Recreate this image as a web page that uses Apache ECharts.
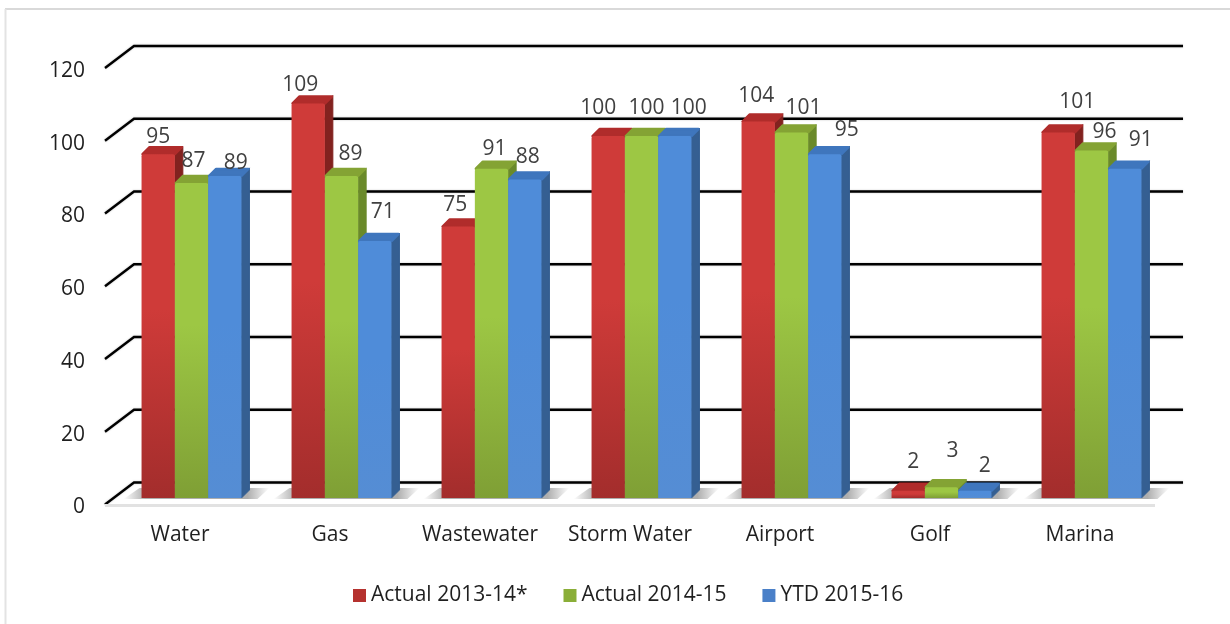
<!DOCTYPE html>
<html>
<head>
    <meta charset="utf-8">
    <title>Chart</title>
    <style>
        html, body { margin: 0; padding: 0; background: #fff; }
        #main { width: 1230px; height: 624px; }
    </style>
</head>
<body>
<div id="main"></div>
<script src="https://cdn.jsdelivr.net/npm/echarts@6/dist/echarts.min.js"></script>
<script>
var categories = ['Water', 'Gas', 'Wastewater', 'Storm Water', 'Airport', 'Golf', 'Marina'];
var actual1314 = [95, 109, 75, 100, 104, 2, 101];
var actual1415 = [87, 89, 91, 100, 101, 3, 96];
var ytd1516 = [89, 71, 88, 100, 95, 2, 91];
var yTicks = [0, 20, 40, 60, 80, 100, 120];

// hand placed labels in the original, [dx, dy] from the default spot
var nudge1314 = [[0, 1], [-8, 0], [-3, -4], [-10, -10], [-2, -8], [5, -11], [19, -12]];
var nudge1415 = [[2, -4], [9, -4], [3, -2], [5, -10], [12, -6], [11, -18], [13, -1]];
var nudge1516 = [[11, 5], [8, -11], [3, -4], [14, -10], [22, -6], [10, -7], [16, -11]];

var wallDx = 29, wallDy = -22;   // depth of the floor
var barDx = 8, barDy = -8;       // depth of one bar
var baseDy = -6.5, groupShift = 11.5, scaleY = 0.995;

function vGrad(a, b) {
    return new echarts.graphic.LinearGradient(0, 0, 0, 1, [
        {offset: 0, color: a}, {offset: 0.45, color: a}, {offset: 1, color: b}
    ]);
}

var palette = [
    {front: vGrad('#cf3b39', '#a32d2c'), top: '#b02c2b', side: '#82221f', legend: '#b5322f'},
    {front: vGrad('#9dc744', '#7f9f35'), top: '#84a334', side: '#6a8a2a', legend: '#8aae38'},
    {front: vGrad('#4f8cd9', '#558dd4'), top: '#3f76bd', side: '#355f92', legend: '#4a80c8'}
];

function renderBar(idx, values, nudges) {
    return function (params, api) {
        var cat = api.value(0);
        var val = api.value(1);
        var zero = api.coord([cat, 0]);
        var top = api.coord([cat, val]);
        var w = api.size([1, 0])[0] * 0.222;
        var x = zero[0] + groupShift + (idx - 1.5) * w;
        var y0 = zero[1] + baseDy;
        var y1 = y0 + (top[1] - zero[1]) * scaleY;
        var c = palette[idx];
        var n = nudges[params.dataIndex];
        return {
            type: 'group',
            children: [
                {type: 'polygon', shape: {points: [[x + w, y1], [x + w + barDx, y1 + barDy], [x + w + barDx, y0 + barDy], [x + w, y0]]},
                    style: {fill: c.side, stroke: c.side, lineWidth: 1, lineJoin: 'round'}},
                {type: 'polygon', shape: {points: [[x + 1, y1], [x + barDx, y1 + barDy + 1], [x + w + barDx - 1, y1 + barDy + 1], [x + w, y1]]},
                    style: {fill: c.top, stroke: c.top, lineWidth: 2.5, lineJoin: 'round'}},
                {type: 'rect', shape: {x: x, y: y1, width: w, height: y0 - y1, r: [2, 2, 0, 0]},
                    style: {fill: c.front}},
                {type: 'text', z2: 100, style: {
                    text: String(values[params.dataIndex]),
                    x: x + w / 2 + n[0], y: y1 - 18 + n[1],
                    align: 'center', verticalAlign: 'middle',
                    font: '21px "Open Sans"', fill: '#404040'
                }}
            ]
        };
    };
}

function barSeries(name, idx, values, nudges) {
    return {
        name: name,
        type: 'custom',
        z: 5,
        itemStyle: {color: palette[idx].legend},
        encode: {x: 0, y: 1},
        data: values.map(function (v, i) { return [i, v]; }),
        renderItem: renderBar(idx, values, nudges)
    };
}

var myChart = echarts.init(document.getElementById('main'));
var option = {
    animation: false,
    backgroundColor: '#fff',
    graphic: [
        {type: 'line', shape: {x1: 5, y1: 9, x2: 1230, y2: 9}, style: {stroke: '#d9d9d9', lineWidth: 2}},
        {type: 'line', shape: {x1: 5.5, y1: 9, x2: 5.5, y2: 624}, style: {stroke: '#e3e3e3', lineWidth: 2}}
    ],
    grid: {left: 105, right: 75, top: 68, bottom: 119.5},
    legend: {
        data: ['Actual 2013-14*', 'Actual 2014-15', 'YTD 2015-16'],
        left: 348, top: 580,
        icon: 'rect',
        itemWidth: 13, itemHeight: 13, itemGap: 36,
        textStyle: {fontFamily: 'Open Sans', fontSize: 21, color: '#1f1f1f', padding: [0, 0, 0, 0]}
    },
    xAxis: {
        type: 'category',
        data: categories,
        axisLine: {show: false},
        axisTick: {show: false},
        axisLabel: {fontFamily: 'Open Sans', fontSize: 21, color: '#1f1f1f', margin: 20, interval: 0}
    },
    yAxis: {
        type: 'value',
        min: 0, max: 120, interval: 20,
        axisLine: {show: false},
        axisTick: {show: false},
        splitLine: {show: false},
        axisLabel: {fontFamily: 'Open Sans', fontSize: 21, color: '#1f1f1f', margin: 20, verticalAlign: 'top', lineHeight: 6}
    },
    series: [
        {
            // back wall lines and the floor
            type: 'custom',
            z: 1,
            silent: true,
            encode: {y: 1},
            data: yTicks.map(function (t) { return [0, t]; }),
            renderItem: function (params, api) {
                var sys = params.coordSys;
                var p = api.coord([0, api.value(1)]);
                var children = [{
                    type: 'polyline',
                    shape: {points: [[sys.x, p[1]], [sys.x + wallDx, p[1] + wallDy], [sys.x + sys.width + wallDx - 1, p[1] + wallDy]]},
                    style: {fill: 'none', stroke: '#000', lineWidth: 2.4, shadowBlur: 2, shadowColor: 'rgba(0,0,0,0.25)'}
                }];
                if (api.value(1) === 0) {
                    children.push({
                        type: 'rect', shape: {x: sys.x, y: p[1] - 0.5, width: sys.width, height: 3},
                        style: {fill: '#e2e2e2'}
                    });
                }
                return {type: 'group', children: children};
            }
        },
        {
            // soft shadow below each group
            type: 'custom',
            z: 2,
            silent: true,
            encode: {x: 0, y: 1},
            data: categories.map(function (c, i) { return [i, 0]; }),
            renderItem: function (params, api) {
                var p = api.coord([api.value(0), 0]);
                var w = api.size([1, 0])[0] * 0.666;
                var left = p[0] + groupShift - w / 2;
                var right = left + w;
                var y0 = p[1] + baseDy;
                return {
                    type: 'polygon',
                    shape: {points: [[left - 18, y0 + 1], [left - 2, y0 - 10], [right + 28, y0 - 10], [right + 16, y0 + 1]]},
                    style: {
                        fill: new echarts.graphic.LinearGradient(0, 0, 1, 0, [
                            {offset: 0, color: 'rgba(120,120,120,0)'},
                            {offset: 0.15, color: 'rgba(120,120,120,0.6)'},
                            {offset: 0.85, color: 'rgba(120,120,120,0.6)'},
                            {offset: 1, color: 'rgba(120,120,120,0)'}
                        ])
                    }
                };
            }
        },
        barSeries('Actual 2013-14*', 0, actual1314, nudge1314),
        barSeries('Actual 2014-15', 1, actual1415, nudge1415),
        barSeries('YTD 2015-16', 2, ytd1516, nudge1516)
    ]
};
myChart.setOption(option);
</script>
</body>
</html>
